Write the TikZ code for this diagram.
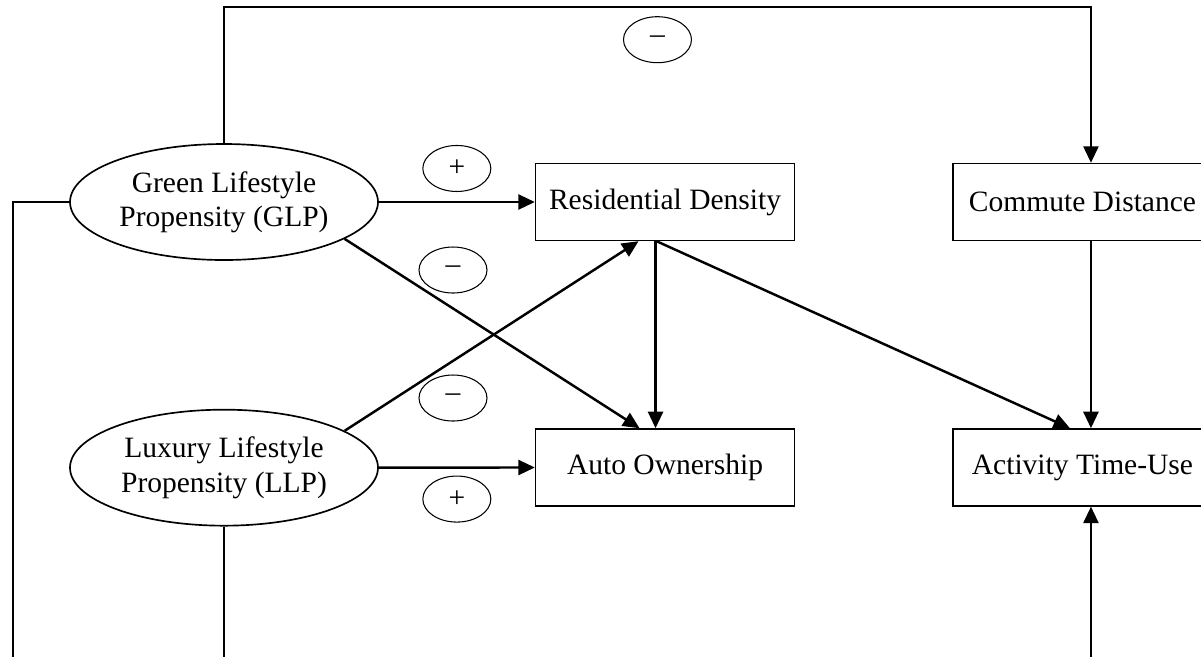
\documentclass[tikz,border=0pt]{standalone}
\usepackage{fontspec}
\setmainfont{Liberation Serif}
\usetikzlibrary{shapes.geometric,arrows.meta,positioning,calc}

\begin{document}
\begin{tikzpicture}[>={Triangle[length=0.33cm,width=0.3cm]}, line width=1.4pt,
    box/.style={draw, rectangle, line width=0.8pt, minimum width=5.18cm, minimum height=1.54cm, align=center, font=\fontsize{16.8}{19.5}\selectfont},
    lat/.style={draw, ellipse, line width=0.95pt, minimum width=6.16cm, minimum height=2.32cm, inner sep=0pt, align=center, font=\fontsize{16.8}{19.5}\selectfont},
    sign/.style={draw, ellipse, line width=0.6pt, minimum width=1.36cm, minimum height=0.92cm, inner sep=0pt, font=\fontsize{16.8}{19.5}\selectfont}]
    \useasboundingbox (0,0) rectangle (24.02,-13.12);
    \clip (0,0) rectangle (24.02,-13.12);

    \node[lat] (GLP) at (4.48,-4.04) {Green Lifestyle\\Propensity (GLP)};
    \node[box, right=3.12cm of GLP] (RD) {Residential Density};
    \node[box, right=3.14cm of RD] (CD) {Commute Distance};

    \node[lat, below=2.96cm of GLP] (LLP) {Luxury Lifestyle\\Propensity (LLP)};
    \node[box, below=3.74cm of RD] (AO) {Auto Ownership};
    \node[box, below=3.74cm of CD] (AT) {Activity Time-Use};

    \node[sign] (mGA) at (9.06,-5.4) {\textendash};
    \node[sign] (mLR) at (9.06,-7.96) {\textendash};

    \coordinate (top) at ($(GLP.north)+(0,2.72)$);
    \coordinate (lB) at (0.26,-13.5);
    \coordinate (llB) at ($(LLP.south)+(0,-4.2)$);
    \coordinate (atB) at ($(AT.south)+(0.17,-4.2)$);

    \draw[->] (GLP) -- node[sign, above=0.2cm] (pGR) {+} (RD);
    \draw[->] (LLP) -- node[sign, below=0.16cm] (pLA) {+} (AO);
    \draw[->] (GLP.-17) -- ([xshift=-0.51cm]AO.north);
    \draw[->] (LLP.17) -- ([xshift=-0.53cm]RD.south);
    \draw[->] ([xshift=-0.19cm]RD.south) -- ([xshift=-0.19cm]AO.north);
    \draw[->] ([xshift=-0.17cm]RD.south) -- ([xshift=-0.25cm]AT.north);
    \draw[->] ([xshift=0.17cm]CD.south) -- ([xshift=0.17cm]AT.north);

    \draw[->] (GLP.north) -- (top) -| node[sign, pos=0.25, below=0.18cm] (mGC) {\textendash} ([xshift=0.17cm]CD.north);
    \draw (GLP.west) -| (lB);
    \draw (LLP.south) -- (llB);
    \draw[->] (atB) -- ([xshift=0.17cm]AT.south);
\end{tikzpicture}
\end{document}
